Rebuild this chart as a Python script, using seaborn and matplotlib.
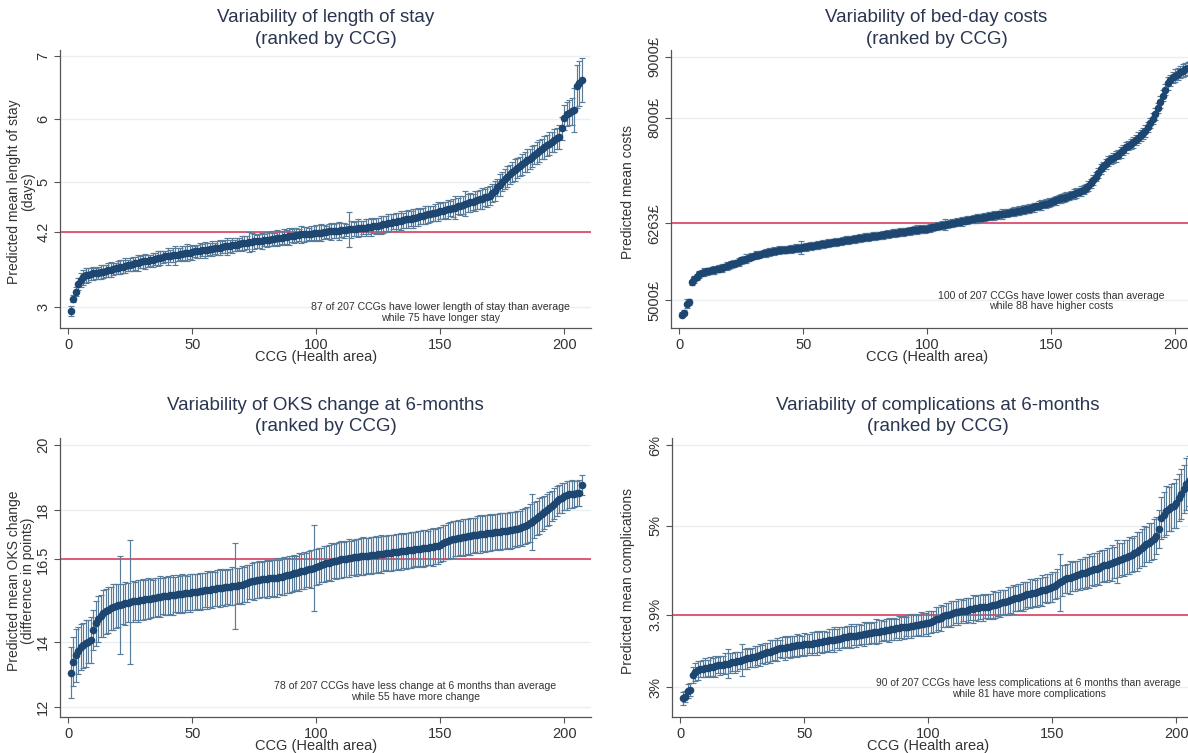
import numpy as np
import pandas as pd
import matplotlib
matplotlib.use("Agg")
import matplotlib.pyplot as plt
import seaborn as sns
from matplotlib import font_manager

# ---------------- data ----------------
ranks = list(range(1, 208))

los_values = [
 2.94,3.14,3.25,3.37,3.44,3.48,3.51,3.52,3.53,3.54,
 3.54,3.55,3.56,3.57,3.58,3.59,3.60,3.61,3.62,3.63,
 3.64,3.65,3.66,3.67,3.68,3.69,3.70,3.71,3.72,3.73,
 3.73,3.74,3.75,3.76,3.77,3.78,3.79,3.80,3.81,3.81,
 3.82,3.83,3.83,3.84,3.85,3.85,3.86,3.87,3.87,3.88,
 3.89,3.89,3.90,3.91,3.91,3.92,3.93,3.93,3.94,3.95,
 3.95,3.96,3.97,3.97,3.98,3.99,3.99,4.00,4.01,4.02,
 4.02,4.03,4.04,4.04,4.05,4.05,4.06,4.06,4.07,4.08,
 4.08,4.09,4.09,4.10,4.11,4.11,4.12,4.12,4.13,4.14,
 4.14,4.15,4.15,4.16,4.16,4.17,4.17,4.17,4.18,4.18,
 4.19,4.19,4.20,4.20,4.21,4.21,4.21,4.22,4.22,4.23,
 4.23,4.23,4.24,4.24,4.25,4.25,4.26,4.26,4.27,4.27,
 4.28,4.28,4.29,4.30,4.30,4.31,4.32,4.33,4.34,4.35,
 4.36,4.36,4.37,4.38,4.39,4.40,4.41,4.41,4.42,4.43,
 4.44,4.45,4.46,4.47,4.48,4.49,4.50,4.51,4.52,4.53,
 4.54,4.55,4.56,4.57,4.58,4.59,4.61,4.62,4.63,4.65,
 4.66,4.67,4.68,4.70,4.71,4.72,4.73,4.75,4.76,4.78,
 4.82,4.86,4.91,4.95,5.00,5.04,5.08,5.12,5.15,5.19,
 5.22,5.25,5.28,5.31,5.34,5.37,5.40,5.43,5.46,5.49,
 5.52,5.55,5.58,5.61,5.64,5.66,5.69,5.72,5.85,6.02,
 6.08,6.10,6.12,6.15,6.52,6.57,6.62]
los_err = [
 0.08,0.06,0.07,0.10,0.11,0.12,0.12,0.11,0.10,0.11,
 0.09,0.10,0.11,0.10,0.09,0.11,0.12,0.10,0.09,0.10,
 0.11,0.10,0.12,0.09,0.10,0.11,0.10,0.13,0.09,0.10,
 0.12,0.10,0.09,0.11,0.10,0.12,0.11,0.10,0.09,0.13,
 0.10,0.11,0.15,0.10,0.09,0.12,0.11,0.14,0.10,0.12,
 0.09,0.11,0.12,0.10,0.13,0.11,0.10,0.12,0.09,0.11,
 0.12,0.10,0.11,0.13,0.10,0.12,0.09,0.11,0.10,0.12,
 0.11,0.10,0.16,0.14,0.12,0.10,0.11,0.13,0.10,0.12,
 0.11,0.12,0.10,0.13,0.11,0.10,0.12,0.11,0.13,0.10,
 0.12,0.11,0.10,0.13,0.12,0.11,0.10,0.12,0.11,0.13,
 0.12,0.14,0.11,0.10,0.12,0.13,0.11,0.12,0.14,0.11,
 0.12,0.10,0.28,0.13,0.11,0.12,0.14,0.12,0.11,0.13,
 0.12,0.14,0.11,0.13,0.12,0.15,0.13,0.12,0.14,0.13,
 0.12,0.14,0.13,0.15,0.12,0.13,0.14,0.12,0.15,0.13,
 0.14,0.12,0.13,0.15,0.14,0.13,0.12,0.14,0.15,0.13,
 0.14,0.13,0.15,0.12,0.14,0.18,0.13,0.15,0.14,0.20,
 0.14,0.15,0.13,0.16,0.14,0.15,0.17,0.14,0.16,0.15,
 0.15,0.16,0.14,0.17,0.15,0.16,0.17,0.15,0.16,0.17,
 0.16,0.15,0.17,0.16,0.18,0.16,0.17,0.15,0.18,0.17,
 0.16,0.18,0.17,0.19,0.16,0.18,0.17,0.19,0.18,0.20,
 0.19,0.20,0.22,0.35,0.34,0.36,0.35]

cost_values = [
 4760,4790,4940,4960,5290,5340,5380,5420,5440,5460,
 5470,5480,5490,5495,5505,5515,5525,5540,5555,5570,
 5585,5600,5615,5630,5650,5665,5680,5695,5710,5725,
 5735,5745,5755,5765,5775,5785,5795,5805,5810,5815,
 5820,5825,5830,5835,5840,5845,5850,5855,5860,5867,
 5873,5880,5886,5893,5900,5906,5913,5920,5926,5933,
 5940,5946,5953,5960,5966,5973,5980,5986,5993,6000,
 6006,6012,6018,6024,6030,6036,6042,6048,6054,6060,
 6066,6072,6078,6084,6090,6096,6102,6108,6114,6120,
 6126,6132,6138,6144,6150,6155,6160,6165,6170,6175,
 6185,6195,6205,6215,6222,6230,6238,6246,6254,6262,
 6270,6278,6286,6294,6302,6310,6318,6326,6334,6342,
 6350,6356,6362,6368,6374,6382,6390,6398,6406,6414,
 6422,6430,6438,6446,6454,6462,6470,6478,6486,6494,
 6502,6514,6526,6538,6550,6562,6574,6586,6598,6610,
 6625,6640,6655,6670,6685,6700,6715,6730,6745,6760,
 6775,6795,6815,6840,6870,6920,6970,7030,7090,7150,
 7200,7240,7280,7310,7335,7360,7390,7430,7470,7510,
 7540,7560,7590,7630,7670,7710,7740,7780,7840,7910,
 7980,8060,8160,8260,8360,8460,8560,8610,8660,8690,
 8720,8750,8770,8790,8810,8830,8850]
cost_err = [
 45,40,70,50,45,60,55,65,50,60,
 55,50,60,65,50,55,60,50,65,55,
 60,55,50,65,60,55,70,50,60,55,
 65,60,55,50,60,65,55,60,50,65,
 55,60,65,50,60,55,65,60,110,55,
 60,50,65,55,60,65,50,60,55,65,
 60,55,65,50,60,55,65,60,55,60,
 65,55,60,50,65,60,55,65,60,55,
 60,65,55,60,50,65,60,55,65,60,
 55,60,65,55,60,70,55,60,65,60,
 65,60,55,70,60,65,95,60,55,65,
 60,65,55,70,60,65,60,55,65,70,
 60,65,70,55,65,60,70,65,60,75,
 65,70,60,65,75,60,70,65,75,60,
 70,65,75,60,70,80,65,70,75,65,
 70,75,65,80,70,75,65,70,80,75,
 70,80,75,70,85,75,80,70,85,80,
 75,80,85,75,80,85,75,90,80,85,
 80,85,90,80,85,90,85,95,85,90,
 90,95,85,100,90,95,100,90,95,100,
 100,95,105,100,110,105,110]

oks_values = [
 13.05,13.39,13.58,13.72,13.82,13.88,13.95,14.00,14.05,14.35,
 14.55,14.68,14.78,14.86,14.92,14.97,15.01,15.05,15.08,15.10,
 15.12,15.14,15.16,15.18,15.20,15.22,15.23,15.24,15.26,15.27,
 15.28,15.30,15.31,15.32,15.34,15.35,15.37,15.38,15.39,15.40,
 15.41,15.42,15.43,15.44,15.45,15.46,15.47,15.48,15.49,15.50,
 15.51,15.52,15.53,15.54,15.56,15.57,15.58,15.59,15.60,15.62,
 15.63,15.64,15.65,15.66,15.67,15.68,15.69,15.70,15.71,15.72,
 15.74,15.77,15.80,15.83,15.85,15.87,15.88,15.89,15.90,15.91,
 15.92,15.93,15.94,15.95,15.96,15.98,16.00,16.02,16.04,16.06,
 16.08,16.10,16.12,16.14,16.16,16.18,16.20,16.22,16.24,16.27,
 16.30,16.33,16.36,16.38,16.40,16.42,16.44,16.46,16.48,16.50,
 16.51,16.52,16.54,16.55,16.56,16.57,16.58,16.59,16.60,16.61,
 16.62,16.63,16.64,16.65,16.66,16.67,16.68,16.69,16.70,16.71,
 16.72,16.73,16.74,16.75,16.76,16.77,16.78,16.79,16.80,16.81,
 16.82,16.83,16.84,16.85,16.86,16.87,16.88,16.90,16.92,16.95,
 17.00,17.04,17.07,17.09,17.11,17.13,17.15,17.16,17.17,17.18,
 17.20,17.21,17.23,17.24,17.26,17.27,17.28,17.29,17.30,17.31,
 17.32,17.33,17.34,17.35,17.36,17.37,17.38,17.39,17.40,17.42,
 17.44,17.46,17.48,17.52,17.56,17.60,17.65,17.70,17.76,17.82,
 17.88,17.94,18.00,18.06,18.12,18.20,18.28,18.34,18.38,18.42,
 18.46,18.48,18.49,18.50,18.51,18.52,18.76]
oks_err = [
 0.78,0.75,0.80,0.72,0.70,0.68,0.72,0.65,0.70,0.62,
 0.68,0.70,0.65,0.72,0.68,0.70,0.66,0.70,0.68,0.65,
 1.50,0.62,0.66,0.60,1.90,0.62,0.58,0.64,0.60,0.62,
 0.58,0.62,0.60,0.56,0.60,0.58,0.62,0.55,0.58,0.60,
 0.56,0.60,0.54,0.58,0.55,0.60,0.56,0.52,0.58,0.55,
 0.56,0.53,0.57,0.55,0.52,0.58,0.54,0.56,0.52,0.55,
 0.57,0.54,0.56,0.52,0.55,0.58,1.30,0.55,0.53,0.57,
 0.54,0.56,0.52,0.55,0.58,0.54,0.56,0.52,0.55,0.57,
 0.53,0.56,0.54,0.58,0.52,0.55,0.57,0.53,0.56,0.54,
 0.55,0.52,0.57,0.54,0.56,0.53,0.55,0.58,1.30,0.54,
 0.55,0.52,0.56,0.54,0.53,0.57,0.52,0.55,0.54,0.56,
 0.53,0.55,0.57,0.52,0.54,0.56,0.53,0.55,0.57,0.54,
 0.52,0.56,0.54,0.55,0.53,0.57,0.54,0.52,0.56,0.55,
 0.53,0.56,0.54,0.57,0.52,0.55,0.53,0.56,0.54,0.52,
 0.55,0.53,0.56,0.54,0.52,0.55,0.57,0.53,0.55,0.54,
 0.56,0.52,0.55,0.54,0.57,0.53,0.55,0.52,0.56,0.54,
 0.53,0.56,0.54,0.52,0.55,0.57,0.53,0.55,0.54,0.56,
 0.52,0.55,0.53,0.56,0.54,0.55,0.53,0.56,0.54,0.52,
 0.55,0.53,0.56,0.54,0.55,0.58,0.85,0.56,0.53,0.55,
 0.52,0.50,0.48,0.50,0.46,0.48,0.45,0.44,0.46,0.42,
 0.44,0.40,0.42,0.40,0.38,0.40,0.30]

comp_values = [
 2.86,2.88,2.95,2.97,3.15,3.19,3.21,3.22,3.23,3.24,
 3.24,3.25,3.25,3.26,3.27,3.27,3.28,3.29,3.29,3.30,
 3.31,3.31,3.32,3.33,3.34,3.35,3.36,3.36,3.37,3.38,
 3.39,3.40,3.41,3.42,3.43,3.44,3.45,3.46,3.47,3.48,
 3.49,3.49,3.50,3.50,3.51,3.51,3.52,3.52,3.52,3.53,
 3.53,3.54,3.54,3.55,3.55,3.56,3.56,3.57,3.57,3.58,
 3.59,3.59,3.60,3.60,3.61,3.62,3.62,3.63,3.63,3.64,
 3.64,3.65,3.65,3.66,3.66,3.67,3.67,3.68,3.69,3.69,
 3.70,3.70,3.71,3.71,3.72,3.72,3.73,3.73,3.74,3.74,
 3.75,3.75,3.76,3.76,3.77,3.77,3.78,3.78,3.79,3.79,
 3.81,3.82,3.84,3.85,3.86,3.88,3.89,3.90,3.91,3.92,
 3.93,3.93,3.94,3.95,3.95,3.96,3.97,3.97,3.98,3.98,
 3.99,3.99,4.00,4.00,4.01,4.02,4.02,4.03,4.04,4.05,
 4.06,4.07,4.08,4.09,4.10,4.11,4.12,4.13,4.14,4.15,
 4.16,4.17,4.17,4.18,4.19,4.20,4.21,4.22,4.23,4.24,
 4.26,4.28,4.30,4.32,4.34,4.35,4.36,4.37,4.38,4.39,
 4.40,4.41,4.42,4.43,4.44,4.45,4.46,4.47,4.48,4.50,
 4.51,4.52,4.53,4.54,4.55,4.56,4.58,4.59,4.60,4.61,
 4.63,4.64,4.66,4.68,4.70,4.73,4.75,4.77,4.79,4.81,
 4.84,4.88,4.96,5.10,5.14,5.19,5.21,5.23,5.25,5.28,
 5.35,5.40,5.46,5.52,5.56,5.60,5.64]
comp_err = [
 0.08,0.07,0.09,0.08,0.10,0.11,0.12,0.10,0.11,0.12,
 0.10,0.12,0.11,0.13,0.10,0.12,0.11,0.13,0.18,0.12,
 0.11,0.13,0.12,0.10,0.20,0.12,0.13,0.11,0.12,0.13,
 0.12,0.14,0.11,0.13,0.12,0.14,0.13,0.12,0.14,0.11,
 0.13,0.15,0.12,0.14,0.13,0.12,0.14,0.13,0.12,0.14,
 0.13,0.12,0.14,0.13,0.15,0.12,0.14,0.13,0.12,0.14,
 0.13,0.15,0.12,0.14,0.13,0.12,0.14,0.13,0.15,0.12,
 0.14,0.13,0.12,0.15,0.13,0.14,0.12,0.13,0.15,0.14,
 0.13,0.12,0.14,0.15,0.13,0.14,0.12,0.15,0.13,0.14,
 0.12,0.14,0.15,0.13,0.14,0.12,0.15,0.14,0.13,0.15,
 0.14,0.13,0.15,0.14,0.16,0.13,0.15,0.14,0.16,0.15,
 0.14,0.16,0.15,0.13,0.16,0.15,0.14,0.17,0.15,0.16,
 0.15,0.17,0.14,0.16,0.15,0.17,0.16,0.15,0.17,0.16,
 0.15,0.17,0.16,0.18,0.15,0.17,0.16,0.18,0.17,0.16,
 0.18,0.17,0.16,0.18,0.17,0.19,0.16,0.18,0.17,0.19,
 0.17,0.18,0.35,0.19,0.17,0.18,0.20,0.18,0.19,0.17,
 0.19,0.18,0.20,0.19,0.21,0.18,0.20,0.19,0.21,0.20,
 0.19,0.21,0.20,0.22,0.19,0.27,0.21,0.20,0.22,0.21,
 0.23,0.21,0.22,0.24,0.22,0.23,0.25,0.22,0.24,0.23,
 0.25,0.23,0.24,0.26,0.28,0.30,0.27,0.29,0.28,0.30,
 0.29,0.31,0.30,0.32,0.31,0.33,0.32]

titles = ["Variability of length of stay", "Variability of bed-day costs",
          "Variability of OKS change at 6-months", "Variability of complications at 6-months"]
subtitle = "(ranked by CCG)"
ylabels = ["Predicted mean lenght of stay\n(days)", "Predicted mean costs",
           "Predicted mean OKS change\n(difference in points)", "Predicted mean complications"]
xlabel = "CCG (Health area)"
averages = [4.2, 6263, 16.5, 3.9]
ytick_vals = [[3, 4.2, 5, 6, 7], [5000, 6263, 8000, 9000], [12, 14, 16.5, 18, 20], [3, 3.9, 5, 6]]
ytick_labels = [["3", "4.2", "5", "6", "7"], ["5000£", "6263£", "8000£", "9000£"],
                ["12", "14", "16.5", "18", "20"], ["3%", "3.9%", "5%", "6%"]]
xtick_vals = [0, 50, 100, 150, 200]
notes = ["87 of 207 CCGs have lower length of stay than average\nwhile 75 have longer stay",
         "100 of 207 CCGs have lower costs than average\nwhile 88 have higher costs",
         "78 of 207 CCGs have less change at 6 months than average\nwhile 55 have more change",
         "90 of 207 CCGs have less complications at 6 months than average\nwhile 81 have more complications"]

# ---------------- style ----------------
sns.set_theme(style="white")
names = {f.name for f in font_manager.fontManager.ttflist}
FONT = "Liberation Sans Narrow" if "Liberation Sans Narrow" in names else "Liberation Sans"
plt.rcParams["font.family"] = [FONT, "DejaVu Sans"]

W, H = 1188, 753
fig = plt.figure(figsize=(W / 100, H / 100), dpi=100)
fig.patch.set_facecolor("white")

# pixel layout (left, top, right, bottom)
boxes = [(60, 50, 591, 328), (671, 50, 1202, 328), (60, 438, 591, 717), (672, 438, 1203, 717)]
ylims = [(2.67, 7.1), (4540, 9110), (11.70, 20.2), (2.63, 6.09)]
title_y = [(18, 39), (18, 39), (405, 426), (405, 426)]
ylabel_x = [21, 628, 21, 628]
note_pos = [(150, 2.92), (150, 4985), (140, 12.48), (140.5, 2.98)]
note_size = [7.6, 7.6, 7.6, 7.4]

series = [(los_values, los_err), (cost_values, cost_err), (oks_values, oks_err), (comp_values, comp_err)]

POINT = "#1d4670"
ERR = "#5a7c9b"
TXT = "#2a3550"

for i, (vals, errs) in enumerate(series):
    l, t, r, b = boxes[i]
    ax = fig.add_axes([l / W, 1 - b / H, (r - l) / W, (b - t) / H])
    df = pd.DataFrame({"rank": ranks, "value": vals, "err": errs})
    for yv in ytick_vals[i]:
        ax.axhline(yv, color="#e9eff2", lw=1.0, zorder=0)
    ax.axhline(averages[i], color="#d9405e", lw=1.2, zorder=1)
    ax.errorbar(df["rank"], df["value"], yerr=df["err"], fmt="none", ecolor=ERR,
                elinewidth=0.85, capsize=2.2, capthick=0.85, zorder=2)
    sns.scatterplot(data=df, x="rank", y="value", ax=ax, color=POINT, s=30,
                    linewidth=0, zorder=3, legend=False)
    ax.set_xlim(-3.4, 210.8)
    ax.set_ylim(*ylims[i])
    ax.set_xticks(xtick_vals)
    ax.set_xticklabels([str(v) for v in xtick_vals])
    ax.set_yticks(ytick_vals[i])
    ax.set_yticklabels(ytick_labels[i])
    for lab in ax.get_yticklabels():
        lab.set_rotation(90)
        lab.set_va("center")
    ax.tick_params(axis="both", direction="out", length=4, width=0.8, color="#555555",
                   labelsize=10.5, labelcolor="#333333", pad=3, left=True, bottom=True)
    ax.set_xlabel("")
    ax.set_ylabel("")
    ax.grid(False)
    for s in ["top", "right"]:
        ax.spines[s].set_visible(False)
    for s in ["left", "bottom"]:
        ax.spines[s].set_color("#555555")
        ax.spines[s].set_linewidth(0.9)
    ax.set_facecolor("white")
    nx, ny = note_pos[i]
    ax.text(nx, ny, notes[i], ha="center", va="center", fontsize=note_size[i], color="#333333",
            linespacing=1.1, zorder=4)

    cx = (l + r) / 2
    fig.text(cx / W, 1 - title_y[i][0] / H, titles[i], ha="center", va="center",
             fontsize=13.5, color=TXT)
    fig.text(cx / W, 1 - title_y[i][1] / H, subtitle, ha="center", va="center",
             fontsize=13.5, color=TXT)
    fig.text(ylabel_x[i] / W, 1 - ((t + b) / 2 + 3) / H, ylabels[i], ha="center", va="center",
             rotation=90, fontsize=10, color="#333333", linespacing=1.0)
    fig.text((l + 8 + 100 * 2.48) / W, 1 - (b + 29) / H, xlabel, ha="center", va="center",
             fontsize=10.5, color="#333333")

fig.savefig("out.png", dpi=100, facecolor="white")
